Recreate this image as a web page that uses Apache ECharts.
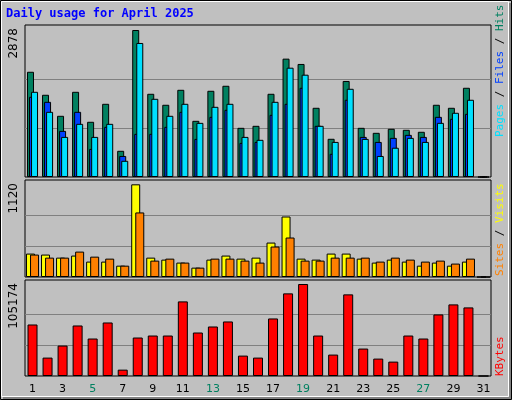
<!DOCTYPE html>
<html><head><meta charset="utf-8">
<script src="https://cdn.jsdelivr.net/npm/echarts@6/dist/echarts.min.js"></script>
<style>html,body{margin:0;padding:0;background:#c0c0c0}#c{width:512px;height:400px}</style>
</head><body><div id="c"></div>
<script>
const days = Array.from({length:31},(_,i)=>String(i+1));
const weekend = ['5','6','12','13','19','20','26','27'];
const hits  = [2060,1610,1198,1668,1081,1433,513,2878,1629,1414,1707,1100,1688,1786,963,1002,1629,2317,2213,1355,748,1880,963,865,944,924,885,1414,1355,1747,0];
const files = [1570,1472,903,1276,550,982,412,845,845,982,1276,746,1178,1315,668,687,1217,1433,1747,1002,454,1512,785,687,766,825,785,1178,1139,1237,0];
const pages = [1668,1276,785,1041,785,1041,317,2624,1531,1198,1433,1060,1374,1433,785,728,1472,2140,2003,1002,687,1727,746,412,573,766,687,1060,1257,1512,0];
const visits= [283,271,234,259,186,186,137,1120,234,210,174,113,210,259,222,234,416,731,222,210,283,283,222,174,210,186,137,174,137,186,0];
const sites = [271,234,234,307,246,222,137,780,198,222,174,113,222,222,198,174,368,477,198,198,234,234,234,186,234,210,186,198,162,222,0];
const kbytes= [58900,21040,34800,57760,42840,61200,7270,43990,46280,46280,85300,49730,56610,62350,23330,21040,65790,94480,105174,46280,24480,93330,31370,19890,16450,46280,42840,70380,81860,78410,0];
const maxHits=2878, maxVisits=1120, maxKB=105174;

const grids=[{left:25,right:21,top:25,height:152},{left:25,right:21,top:180,height:97},{left:25,right:21,top:280,height:96}];
const mono='DejaVu Sans Mono';
function xa(i,show){return {type:'category',gridIndex:i,data:days,boundaryGap:true,
  axisLine:{show:false},axisTick:{show:false},
  axisLabel:{show:show,fontFamily:'DejaVu Sans',fontSize:11,margin:8,
    color:(v)=>weekend.includes(v)?'#008060':'#000'}};}
function ya(i,m,top){return {type:'value',gridIndex:i,min:0,max:m*top,interval:m/3,
  axisLabel:{show:false},axisLine:{show:false},axisTick:{show:false},
  splitLine:{show:true,lineStyle:{color:['transparent','#808080','#808080','transparent']}}};}
const bs={borderColor:'#000',borderWidth:1};
const opt={animation:false,
 grid:grids.map(g=>Object.assign({show:true,backgroundColor:'#c0c0c0',borderColor:'#000',borderWidth:1},g)),
 xAxis:[xa(0,false),xa(1,false),xa(2,true)],
 yAxis:[ya(0,maxHits,152/147),ya(1,maxVisits,96.7/92.4),ya(2,maxKB,95.7/91.7)],
 series:[
  {type:'bar',xAxisIndex:0,yAxisIndex:0,data:hits,barWidth:7,barGap:'-71%',itemStyle:Object.assign({color:'#008060'},bs)},
  {type:'bar',xAxisIndex:0,yAxisIndex:0,data:files,barWidth:7,barGap:'-71%',itemStyle:Object.assign({color:'#0040ff'},bs)},
  {type:'bar',xAxisIndex:0,yAxisIndex:0,data:pages,barWidth:7,barGap:'-71%',itemStyle:Object.assign({color:'#00e0ff'},bs)},
  {type:'bar',xAxisIndex:1,yAxisIndex:1,data:visits,barWidth:9,barGap:'-55%',itemStyle:Object.assign({color:'#ffff00'},bs)},
  {type:'bar',xAxisIndex:1,yAxisIndex:1,data:sites,barWidth:9,barGap:'-55%',itemStyle:Object.assign({color:'#ff8000'},bs)},
  {type:'bar',xAxisIndex:2,yAxisIndex:2,data:kbytes,barWidth:10,itemStyle:Object.assign({color:'#ff0000'},bs)}
 ],
 graphic:[
  {type:'rect',shape:{x:0.5,y:0.5,width:511,height:399},style:{fill:'none',stroke:'#000',lineWidth:1},z:100},
  {type:'rect',shape:{x:1.5,y:1.5,width:507,height:395},style:{fill:'none',stroke:'#fff',lineWidth:1},z:100},
  {type:'rect',shape:{x:3,y:397,width:508,height:2},style:{fill:'#808080'},z:100},
  {type:'rect',shape:{x:509,y:3,width:2,height:396},style:{fill:'#808080'},z:100},
  {type:'text',left:6,top:8,style:{text:'Daily usage for April 2025',font:'bold 12px '+mono,fill:'#0000ff'}},
  {type:'text',x:8,y:28,rotation:Math.PI/2,style:{text:'2878',font:'12px DejaVu Sans',fill:'#000',align:'right',verticalAlign:'top'}},
  {type:'text',x:8,y:183,rotation:Math.PI/2,style:{text:'1120',font:'12px DejaVu Sans',fill:'#000',align:'right',verticalAlign:'top'}},
  {type:'text',x:8,y:283,rotation:Math.PI/2,style:{text:'105174',font:'12px DejaVu Sans',fill:'#000',align:'right',verticalAlign:'top'}},
  {type:'text',x:495,y:137,rotation:Math.PI/2,style:{text:'{p|Pages}{s| / }{f|Files}{s| / }{h|Hits}',align:'left',verticalAlign:'top',
    font:'11px '+mono,rich:{p:{fill:'#00e0ff',font:'11px '+mono},f:{fill:'#0040ff',font:'11px '+mono},h:{fill:'#008060',font:'11px '+mono},s:{fill:'#000',font:'11px '+mono}}}},
  {type:'text',x:495,y:276,rotation:Math.PI/2,style:{text:'{o|Sites}{s| / }{y|Visits}',align:'left',verticalAlign:'top',
    font:'11px '+mono,rich:{o:{fill:'#ff8000',font:'11px '+mono},y:{fill:'#ffff00',font:'11px '+mono},s:{fill:'#000',font:'11px '+mono}}}},
  {type:'text',x:495,y:376,rotation:Math.PI/2,style:{text:'KBytes',align:'left',verticalAlign:'top',font:'11px '+mono,fill:'#ff0000'}}
 ]};
echarts.init(document.getElementById('c')).setOption(opt);
</script></body></html>
